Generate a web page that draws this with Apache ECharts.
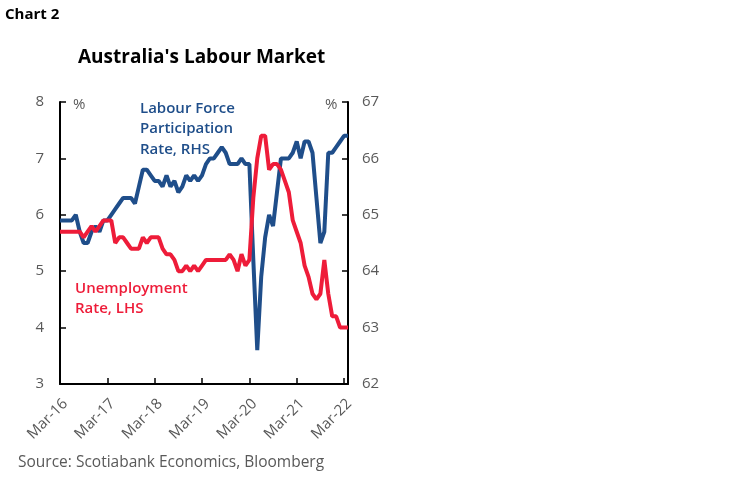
<!DOCTYPE html>
<html>
<head>
<meta charset="utf-8">
<script src="https://cdn.jsdelivr.net/npm/echarts@6/dist/echarts.min.js"></script>
<style>
    html,body{margin:0;padding:0;background:#fff}
    #chart{width:750px;height:482px}
</style>
</head>
<body>
<div id="chart"></div>
<script>
// monthly, Mar-16 .. Apr-22
var monthNames = ['Jan','Feb','Mar','Apr','May','Jun','Jul','Aug','Sep','Oct','Nov','Dec'];
var months = [];
for (var i = 0; i < 74; i++) {
    var m = (2 + i) % 12, y = 16 + Math.floor((2 + i) / 12);
    months.push(monthNames[m] + '-' + y);
}

// unemployment rate, LHS (%)
var unemployment = [
    5.7,5.7,5.7,5.7,5.7,5.7,5.6,5.7,5.8,5.7,5.8,5.9,
    5.9,5.9,5.5,5.6,5.6,5.5,5.4,5.4,5.4,5.6,5.5,5.6,
    5.6,5.6,5.4,5.3,5.3,5.2,5.0,5.0,5.1,5.0,5.1,5.0,
    5.1,5.2,5.2,5.2,5.2,5.2,5.2,5.3,5.2,5.0,5.3,5.1,
    5.2,6.3,7.0,7.4,7.4,6.8,6.9,6.9,6.8,6.6,6.4,5.9,
    5.7,5.5,5.1,4.9,4.6,4.5,4.6,5.2,4.6,4.2,4.2,4.0,
    4.0,4.0
];

// labour force participation rate, RHS (%)
var participation = [
    64.9,64.9,64.9,64.9,65.0,64.7,64.5,64.5,64.7,64.8,64.7,64.9,
    64.9,65.0,65.1,65.2,65.3,65.3,65.3,65.2,65.5,65.8,65.8,65.7,
    65.6,65.6,65.5,65.7,65.5,65.6,65.4,65.5,65.7,65.6,65.7,65.6,
    65.7,65.9,66.0,66.0,66.1,66.2,66.1,65.9,65.9,65.9,66.0,65.9,
    65.9,64.2,62.6,63.9,64.6,65.0,64.8,65.4,66.0,66.0,66.0,66.1,
    66.3,66.0,66.3,66.3,66.1,65.3,64.5,64.7,66.1,66.1,66.2,66.3,
    66.4,66.4
];

var blue = '#1F4E8A';
var red = '#EE1C39';
var grey = '#595959';

function yearTick(idx){ return idx % 12 == 0; }

var myChart = echarts.init(document.getElementById('chart'));
myChart.setOption({
    animation: false,
    textStyle: {fontFamily: 'Open Sans'},
    grid: {left: 60, right: 402, top: 102, bottom: 98},
    xAxis: {
        type: 'category',
        data: months,
        boundaryGap: false,
        axisLine: {lineStyle: {color: '#000', width: 2}},
        axisTick: {inside: true, length: 6, interval: yearTick, lineStyle: {color: '#000', width: 1.5}},
        axisLabel: {interval: yearTick, rotate: 45, verticalAlign: 'top', color: grey, fontSize: 15, fontFamily: 'Open Sans', margin: 12}
    },
    yAxis: [{
        type: 'value', min: 3, max: 8, interval: 1, position: 'left',
        axisLine: {show: true, lineStyle: {color: '#000', width: 2}},
        axisTick: {show: true, inside: true, length: 6, lineStyle: {color: '#000', width: 1.5}},
        splitLine: {show: false},
        axisLabel: {color: grey, fontSize: 15, fontFamily: 'Open Sans', margin: 16}
    },{
        type: 'value', min: 62, max: 67, interval: 1, position: 'right',
        axisLine: {show: true, lineStyle: {color: '#000', width: 2}},
        axisTick: {show: true, inside: true, length: 6, lineStyle: {color: '#000', width: 1.5}},
        splitLine: {show: false},
        axisLabel: {color: grey, fontSize: 15, fontFamily: 'Open Sans', margin: 14}
    }],
    series: [{
        name: 'Labour Force Participation Rate, RHS',
        type: 'line', yAxisIndex: 1,
        data: participation,
        showSymbol: false,
        lineStyle: {color: blue, width: 4},
        itemStyle: {color: blue}
    },{
        name: 'Unemployment Rate, LHS',
        type: 'line', yAxisIndex: 0,
        data: unemployment,
        showSymbol: false,
        lineStyle: {color: red, width: 4},
        itemStyle: {color: red}
    }],
    graphic: [
        {type: 'text', left: 5, top: 7, style: {text: 'Chart 2', font: 'bold 15px "Open Sans"', fill: '#000'}},
        {type: 'text', left: 78, top: 48, style: {text: "Australia's Labour Market", font: 'bold 19px "Open Sans"', fill: '#000'}},
        {type: 'text', left: 73, top: 97, style: {text: '%', font: '15px "Open Sans"', fill: grey}},
        {type: 'text', left: 325, top: 97, style: {text: '%', font: '15px "Open Sans"', fill: grey}},
        {type: 'text', left: 140, top: 98, style: {text: 'Labour Force\nParticipation\nRate, RHS', font: '600 15px "Open Sans"', lineHeight: 20.5, fill: blue}},
        {type: 'text', left: 75, top: 278, style: {text: 'Unemployment\nRate, LHS', font: '600 15px "Open Sans"', lineHeight: 20.5, fill: red}},
        {type: 'text', left: 18, top: 455, style: {text: 'Source: Scotiabank Economics, Bloomberg', font: '15.5px "Open Sans"', fill: grey}}
    ]
});
</script>
</body>
</html>
